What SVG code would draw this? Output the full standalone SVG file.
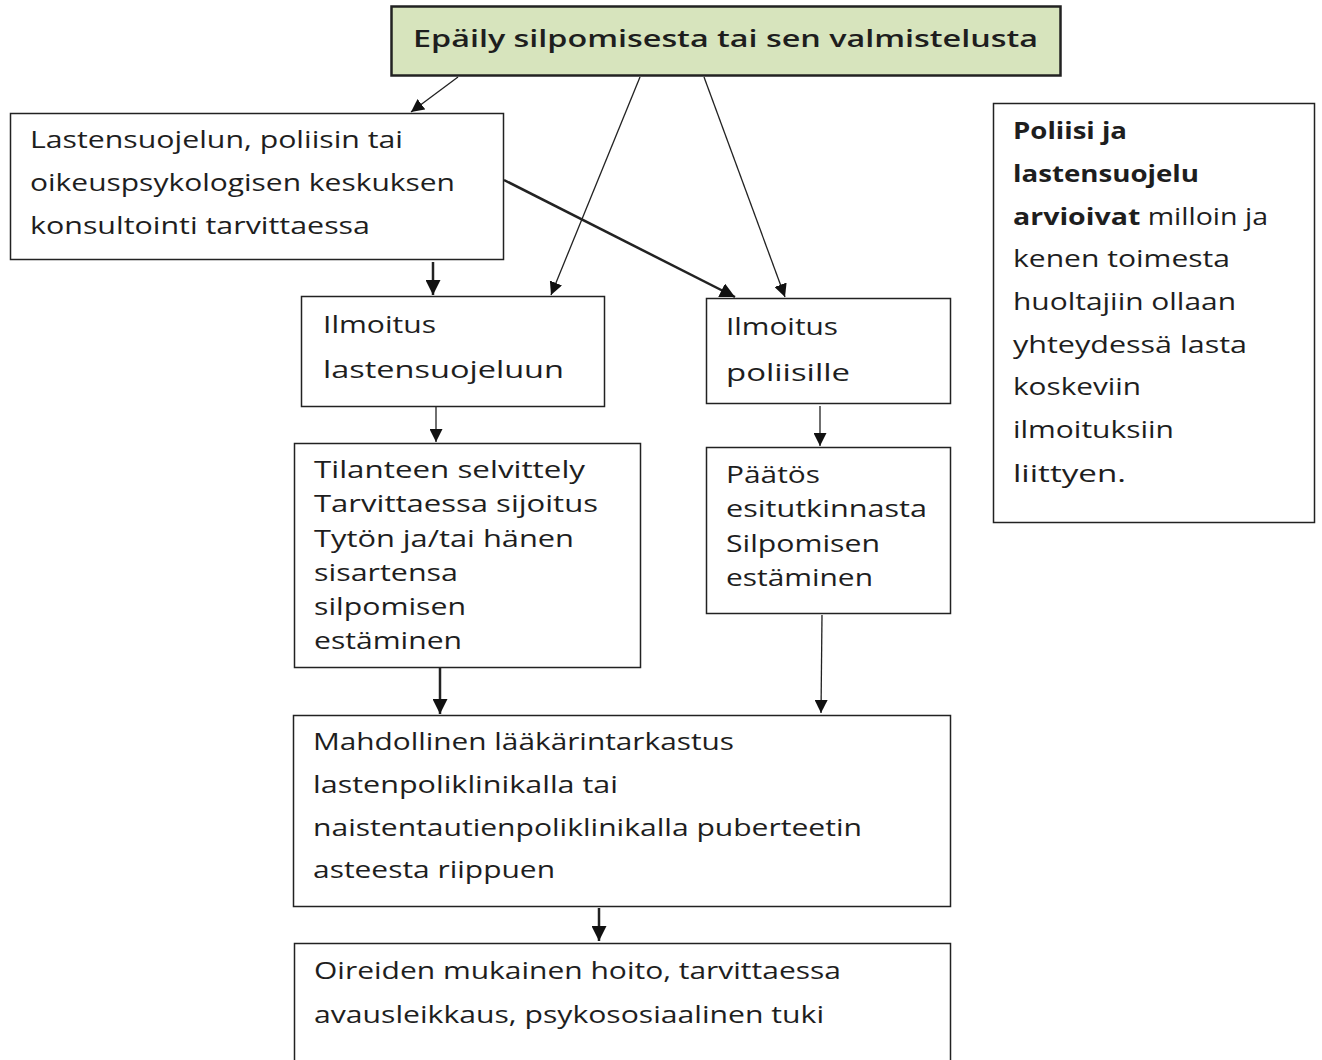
<svg xmlns="http://www.w3.org/2000/svg" width="1322" height="1060" viewBox="0 0 1322 1060">
<style>
.box{fill:#fff;stroke:#222;stroke-width:1.5}
.t{font-family:"Open Sans","Noto Sans",sans-serif;fill:#1e1e1e;font-size:24px}
.b{font-weight:700}
.c{stroke:#222;stroke-width:1.3;fill:none;marker-end:url(#ah)}
.ck{stroke:#222;stroke-width:2.5;fill:none;marker-end:url(#ah2)}
</style>
<defs>
<marker id="ah" viewBox="0 0 10 10" refX="10" refY="5" markerWidth="13" markerHeight="13" markerUnits="userSpaceOnUse" orient="auto"><path d="M0,0 L10,5 L0,10 Z" fill="#111"/></marker>
<marker id="ah2" viewBox="0 0 10 10" refX="10" refY="5" markerWidth="6" markerHeight="6" orient="auto"><path d="M0,0 L10,5 L0,10 Z" fill="#111"/></marker>
</defs>
<rect width="1322" height="1060" fill="#fff"/>
<g id="connectors">
<line class="c" x1="458" y1="77" x2="411" y2="112"/>
<line class="c" x1="640" y1="77" x2="551" y2="295"/>
<line class="c" x1="704" y1="77" x2="785" y2="297"/>
<line class="ck" x1="504" y1="180" x2="735" y2="297"/>
<line class="ck" x1="433" y1="262" x2="433" y2="295"/>
<line class="c" x1="436" y1="407" x2="436" y2="442"/>
<line class="c" x1="820" y1="406" x2="820" y2="446"/>
<line class="ck" x1="440" y1="668" x2="440" y2="714"/>
<line class="c" x1="822" y1="615" x2="821" y2="713"/>
<line class="ck" x1="599" y1="908" x2="599" y2="941"/>
</g>
<g id="n-epaily">
<rect x="391.5" y="6.5" width="669" height="69" fill="#d7e4bd" stroke="#222" stroke-width="2.5"/>
<text class="t" x="413" y="47" font-size="28" font-weight="600" textLength="625" lengthAdjust="spacingAndGlyphs">Epäily silpomisesta tai sen valmistelusta</text>
</g>
<g id="n-konsultointi">
<rect class="box" x="10.5" y="113.5" width="493" height="146"/>
<text class="t" x="30" y="148" textLength="373" lengthAdjust="spacingAndGlyphs">Lastensuojelun, poliisin tai</text>
<text class="t" x="30" y="191" textLength="425" lengthAdjust="spacingAndGlyphs">oikeuspsykologisen keskuksen</text>
<text class="t" x="30" y="234" textLength="340" lengthAdjust="spacingAndGlyphs">konsultointi tarvittaessa</text>
</g>
<g id="n-ilm-ls">
<rect class="box" x="301.5" y="296.5" width="303" height="110"/>
<text class="t" x="323" y="333" font-size="27" textLength="113" lengthAdjust="spacingAndGlyphs">Ilmoitus</text>
<text class="t" x="323" y="378" font-size="29" textLength="241" lengthAdjust="spacingAndGlyphs">lastensuojeluun</text>
</g>
<g id="n-ilm-pol">
<rect class="box" x="706.5" y="298.5" width="244" height="105"/>
<text class="t" x="726" y="335" font-size="27" textLength="112" lengthAdjust="spacingAndGlyphs">Ilmoitus</text>
<text class="t" x="726" y="381" font-size="29" textLength="124" lengthAdjust="spacingAndGlyphs">poliisille</text>
</g>
<g id="n-tilanne">
<rect class="box" x="294.5" y="443.5" width="346" height="224"/>
<text class="t" x="314" y="478" font-size="25" textLength="271" lengthAdjust="spacingAndGlyphs">Tilanteen selvittely</text>
<text class="t" x="314" y="512" font-size="25" textLength="284" lengthAdjust="spacingAndGlyphs">Tarvittaessa sijoitus</text>
<text class="t" x="314" y="547" font-size="25" textLength="260" lengthAdjust="spacingAndGlyphs">Tytön ja/tai hänen</text>
<text class="t" x="314" y="581" font-size="25" textLength="144" lengthAdjust="spacingAndGlyphs">sisartensa</text>
<text class="t" x="314" y="615" font-size="25" textLength="152" lengthAdjust="spacingAndGlyphs">silpomisen</text>
<text class="t" x="314" y="649" font-size="25" textLength="148" lengthAdjust="spacingAndGlyphs">estäminen</text>
</g>
<g id="n-paatos">
<rect class="box" x="706.5" y="447.5" width="244" height="166"/>
<text class="t" x="726" y="483" font-size="25" textLength="94" lengthAdjust="spacingAndGlyphs">Päätös</text>
<text class="t" x="726" y="517" font-size="25" textLength="201" lengthAdjust="spacingAndGlyphs">esitutkinnasta</text>
<text class="t" x="726" y="552" font-size="25" textLength="154" lengthAdjust="spacingAndGlyphs">Silpomisen</text>
<text class="t" x="726" y="586" font-size="25" textLength="147" lengthAdjust="spacingAndGlyphs">estäminen</text>
</g>
<g id="n-laakari">
<rect class="box" x="293.5" y="715.5" width="657" height="191"/>
<text class="t" x="313" y="750" font-size="25" textLength="421" lengthAdjust="spacingAndGlyphs">Mahdollinen lääkärintarkastus</text>
<text class="t" x="313" y="793" font-size="25" textLength="305" lengthAdjust="spacingAndGlyphs">lastenpoliklinikalla tai</text>
<text class="t" x="313" y="836" font-size="25" textLength="549" lengthAdjust="spacingAndGlyphs">naistentautienpoliklinikalla puberteetin</text>
<text class="t" x="313" y="878" font-size="25" textLength="242" lengthAdjust="spacingAndGlyphs">asteesta riippuen</text>
</g>
<g id="n-hoito">
<rect class="box" x="294.5" y="943.5" width="656" height="130"/>
<text class="t" x="314" y="979" font-size="26" textLength="527" lengthAdjust="spacingAndGlyphs">Oireiden mukainen hoito, tarvittaessa</text>
<text class="t" x="314" y="1023" font-size="26" textLength="510" lengthAdjust="spacingAndGlyphs">avausleikkaus, psykososiaalinen tuki</text>
</g>
<g id="n-huom">
<rect class="box" x="993.5" y="103.5" width="321" height="419"/>
<text class="t b" x="1013" y="139" textLength="114" lengthAdjust="spacingAndGlyphs">Poliisi ja</text>
<text class="t b" x="1013" y="182" textLength="186" lengthAdjust="spacingAndGlyphs">lastensuojelu</text>
<text class="t" x="1013" y="225" textLength="255" lengthAdjust="spacingAndGlyphs"><tspan class="b">arvioivat</tspan> milloin ja</text>
<text class="t" x="1013" y="267" textLength="217" lengthAdjust="spacingAndGlyphs">kenen toimesta</text>
<text class="t" x="1013" y="310" textLength="223" lengthAdjust="spacingAndGlyphs">huoltajiin ollaan</text>
<text class="t" x="1013" y="353" textLength="234" lengthAdjust="spacingAndGlyphs">yhteydessä lasta</text>
<text class="t" x="1013" y="395" textLength="128" lengthAdjust="spacingAndGlyphs">koskeviin</text>
<text class="t" x="1013" y="438" textLength="161" lengthAdjust="spacingAndGlyphs">ilmoituksiin</text>
<text class="t" x="1013" y="482" font-size="27" textLength="113" lengthAdjust="spacingAndGlyphs">liittyen.</text>
</g>
</svg>
